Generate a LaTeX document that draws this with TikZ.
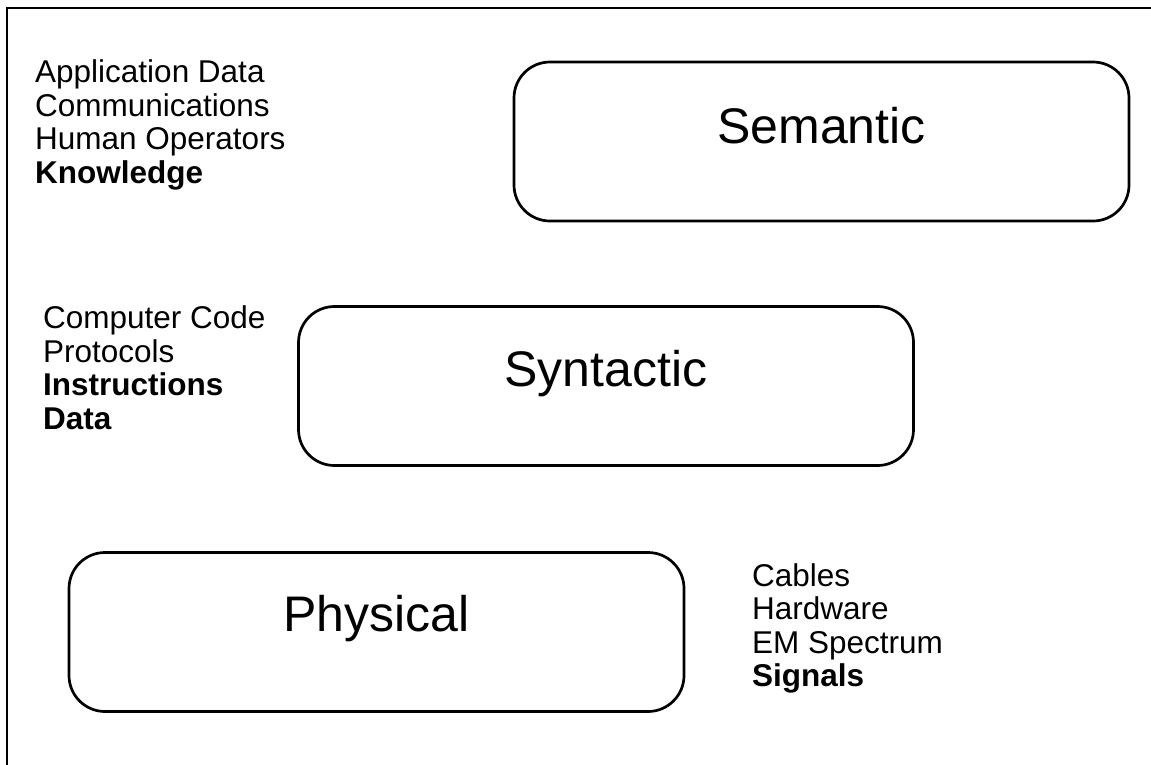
\documentclass[tikz,border=0pt]{standalone}
\usepackage{fontspec}
\setmainfont{Liberation Sans}
\begin{document}
\begin{tikzpicture}[x=1pt,y=-1pt,
  frame/.style={line width=2.7pt},
  layer/.style={draw, line width=2.7pt, rounded corners=36pt,
    minimum width=615pt, minimum height=159pt, inner sep=0pt},
  layername/.style={anchor=base, inner sep=0pt,
    font=\fontsize{50}{60}\selectfont},
  notes/.style={anchor=north west, align=left, inner sep=0pt,
    font=\fontsize{31.5}{33.6}\selectfont}]
\useasboundingbox (0,0) rectangle (1151,764);
\clip (0,0) rectangle (1151,764);

% open frame along the left and top edges
\draw[frame] (7,790) -- (7,8) -- (1170,8);

% the three layers
\node[layer] (semantic)  at (821.5,141.5) {};
\node[layer] (syntactic) at (606,386) {};
\node[layer] (physical)  at (376.5,632) {};

\node[layername] (semlabel) at (821.5,143) {Semantic};
\node[layername] (synlabel) at (606,386) {Syntactic};
\node[layername] (phylabel) at (376.5,631) {Physical};

% what each layer holds
\node[notes] (semnotes) at (35,59.5) {Application Data\\Communications\\Human Operators\\\textbf{Knowledge}};
\node[notes] (synnotes) at (43,305.5) {Computer Code\\Protocols\\\textbf{Instructions}\\\textbf{Data}};
\node[notes] (phynotes) at (752,563) {Cables\\Hardware\\EM Spectrum\\\textbf{Signals}};
\end{tikzpicture}
\end{document}
